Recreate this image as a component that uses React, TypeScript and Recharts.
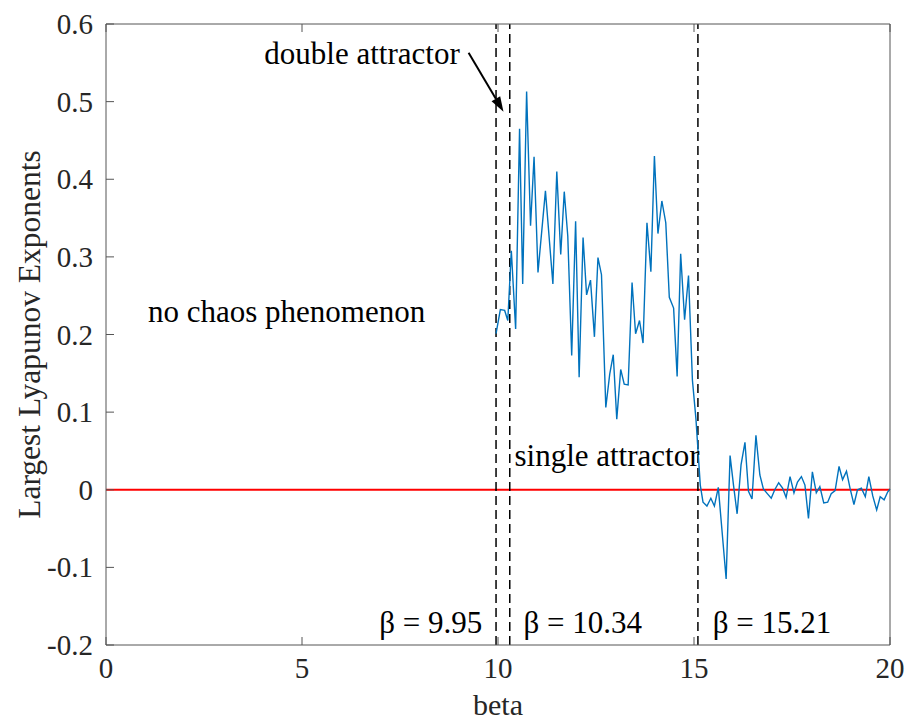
import { LineChart, Line, XAxis, YAxis, ReferenceLine, ReferenceDot } from "recharts";

// values
const betaPoints = [
  9.95, 10.06, 10.17, 10.25, 10.34, 10.45, 10.55, 10.63, 10.73, 10.83, 10.92, 11.02,
  11.21, 11.4, 11.5, 11.6, 11.69, 11.78, 11.88, 11.98, 12.07, 12.17, 12.26, 12.36,
  12.46, 12.55, 12.64, 12.75, 12.85, 12.94, 13.03, 13.13, 13.22, 13.32, 13.42, 13.51,
  13.61, 13.7, 13.8, 13.9, 13.99, 14.08, 14.18, 14.28, 14.37, 14.48, 14.57, 14.66,
  14.76, 14.86, 14.96, 15.05, 15.16, 15.23, 15.33, 15.43, 15.52, 15.62, 15.82, 15.92,
  16.01, 16.1, 16.2, 16.3, 16.39, 16.48, 16.58, 16.68, 16.77, 16.87, 16.97, 17.06,
  17.16, 17.26, 17.35, 17.45, 17.55, 17.64, 17.74, 17.83, 17.92, 18.02, 18.12, 18.21,
  18.31, 18.41, 18.5, 18.6, 18.7, 18.79, 18.89, 18.98, 19.08, 19.17, 19.27, 19.37,
  19.46, 19.56, 19.66, 19.75, 19.85, 19.94, 20.0,
];
const lyapunovValues = [
  0.201, 0.232, 0.231, 0.218, 0.308, 0.207, 0.465, 0.265, 0.513, 0.34, 0.429, 0.28,
  0.385, 0.265, 0.41, 0.303, 0.384, 0.327, 0.173, 0.346, 0.145, 0.325, 0.251, 0.27,
  0.197, 0.299, 0.277, 0.106, 0.149, 0.174, 0.091, 0.155, 0.136, 0.135, 0.267, 0.201,
  0.218, 0.189, 0.344, 0.281, 0.43, 0.33, 0.372, 0.344, 0.248, 0.234, 0.146, 0.304,
  0.219, 0.276, 0.141, 0.091, 0.006, -0.016, -0.021, -0.011, -0.021, 0.003, -0.115, 0.044,
  0.005, -0.031, 0.032, 0.061, -0.002, -0.012, 0.07, 0.019, 0.001, -0.005, -0.011, 0.0,
  0.009, 0.002, -0.01, 0.017, -0.004, 0.01, 0.017, 0.006, -0.037, 0.023, -0.004, 0.004,
  -0.017, -0.016, -0.005, -0.001, 0.03, 0.013, 0.024, 0.002, -0.019, 0.0, 0.002, -0.009,
  0.017, -0.008, -0.026, -0.009, -0.013, -0.003, 0.001,
];

const xTicks = [0, 5, 10, 15, 20];
const yTicks = [-0.2, -0.1, 0, 0.1, 0.2, 0.3, 0.4, 0.5, 0.6];
const boundaryBetas = [9.95, 10.3, 15.1];
const boundaryLabels = ["β = 9.95", "β = 10.34", "β = 15.21"];

const data = betaPoints.map((b, i) => ({ beta: b, lle: lyapunovValues[i] }));

const FONT = "Liberation Serif, Times New Roman, serif";
const TEXT = "#262626";
const BOX = "#555555";
const TICK_LEN = 8;

const fmtY = (v: number) => (v === 0 ? "0" : v.toFixed(1));

const BottomTick = (props: any) => {
  const { x, y, payload } = props;
  return (
    <g>
      <line x1={x} y1={y} x2={x} y2={y - TICK_LEN} stroke={BOX} />
      <text x={x} y={y + 33} textAnchor="middle" fontSize={29} style={{ fontFamily: FONT }} fill={TEXT}>
        {payload.value}
      </text>
    </g>
  );
};

const TopTick = (props: any) => {
  const { x, y } = props;
  return <line x1={x} y1={y} x2={x} y2={y + TICK_LEN} stroke={BOX} />;
};

const LeftTick = (props: any) => {
  const { x, y, payload } = props;
  return (
    <g>
      <line x1={x} y1={y} x2={x + TICK_LEN} y2={y} stroke={BOX} />
      <text x={x - 13} y={y + 10} textAnchor="end" fontSize={29} style={{ fontFamily: FONT }} fill={TEXT}>
        {fmtY(payload.value)}
      </text>
    </g>
  );
};

const RightTick = (props: any) => {
  const { x, y } = props;
  return <line x1={x} y1={y} x2={x - TICK_LEN} y2={y} stroke={BOX} />;
};

const Arrow = (props: any) => {
  const { x1, y1, x2, y2 } = props;
  const ang = Math.atan2(y2 - y1, x2 - x1);
  const len = 15;
  const half = 5;
  const bx = x2 - len * Math.cos(ang);
  const by = y2 - len * Math.sin(ang);
  const px = -Math.sin(ang) * half;
  const py = Math.cos(ang) * half;
  return (
    <g>
      <line x1={x1} y1={y1} x2={bx} y2={by} stroke="#000" strokeWidth={2} />
      <polygon points={`${x2},${y2} ${bx + px},${by + py} ${bx - px},${by - py}`} fill="#000" />
    </g>
  );
};

const note = (text: string, anchor: string = "start") => (p: any) => (
  <text x={p.cx} y={p.cy} textAnchor={anchor} fontSize={31} style={{ fontFamily: FONT }} fill="#000">
    {text}
  </text>
);

export default function App() {
  return (
    <div style={{ position: "absolute", left: 0, top: 0, background: "#fff", fontFamily: FONT }}>
      <LineChart
        width={906}
        height={722}
        data={data}
        margin={{ top: 23, right: 15, bottom: 76, left: 0 }}
      >
        <XAxis
          dataKey="beta"
          type="number"
          domain={[0, 20]}
          ticks={xTicks}
          height={1}
          tickSize={0}
          tickMargin={0}
          tickLine={false}
          stroke={BOX}
          tick={<BottomTick />}
          interval={0}
          label={{
            content: (p: any) => {
              const vb = p.viewBox;
              return (
                <text x={vb.x + vb.width / 2} y={vb.y + 70} textAnchor="middle" fontSize={30} style={{ fontFamily: FONT }} fill={TEXT}>
                  beta
                </text>
              );
            },
          }}
        />
        <XAxis
          xAxisId="top"
          orientation="top"
          dataKey="beta"
          type="number"
          domain={[0, 20]}
          ticks={xTicks}
          height={1}
          tickSize={0}
          tickMargin={0}
          tickLine={false}
          stroke={BOX}
          tick={<TopTick />}
          interval={0}
        />
        <YAxis
          type="number"
          domain={[-0.2, 0.6]}
          ticks={yTicks}
          width={106}
          tickSize={0}
          tickMargin={0}
          tickLine={false}
          stroke={BOX}
          tick={<LeftTick />}
          interval={0}
          label={{
            content: (p: any) => {
              const vb = p.viewBox;
              const cx = 40;
              const cy = vb.y + vb.height / 2;
              return (
                <text
                  x={cx}
                  y={cy}
                  transform={`rotate(-90 ${cx} ${cy})`}
                  textAnchor="middle"
                  fontSize={31.5}
                  style={{ fontFamily: FONT }}
                  fill={TEXT}
                >
                  Largest Lyapunov Exponents
                </text>
              );
            },
          }}
        />
        <YAxis
          yAxisId="right"
          orientation="right"
          type="number"
          domain={[-0.2, 0.6]}
          ticks={yTicks}
          width={1}
          tickSize={0}
          tickMargin={0}
          tickLine={false}
          stroke={BOX}
          tick={<RightTick />}
          interval={0}
        />
        <ReferenceLine y={0} stroke="#ff0000" strokeWidth={2} />
        {boundaryBetas.map((b) => (
          <ReferenceLine key={b} x={b} stroke="#000" strokeWidth={1.5} strokeDasharray="9 5" />
        ))}
        <Line
          type="linear"
          dataKey="lle"
          stroke="#0072BD"
          strokeWidth={1.4}
          dot={false}
          isAnimationActive={false}
        />
        <ReferenceLine
          segment={[
            { x: 9.25, y: 0.563 },
            { x: 10.14, y: 0.487 },
          ]}
          shape={<Arrow />}
        />
        <ReferenceDot x={4.04} y={0.549} r={0} shape={note("double attractor")} />
        <ReferenceDot x={1.07} y={0.2165} r={0} shape={note("no chaos phenomenon")} />
        <ReferenceDot x={10.42} y={0.031} r={0} shape={note("single attractor")} />
        <ReferenceDot x={9.6} y={-0.184} r={0} shape={note(boundaryLabels[0], "end")} />
        <ReferenceDot x={10.65} y={-0.184} r={0} shape={note(boundaryLabels[1])} />
        <ReferenceDot x={15.48} y={-0.184} r={0} shape={note(boundaryLabels[2])} />
      </LineChart>
    </div>
  );
}
